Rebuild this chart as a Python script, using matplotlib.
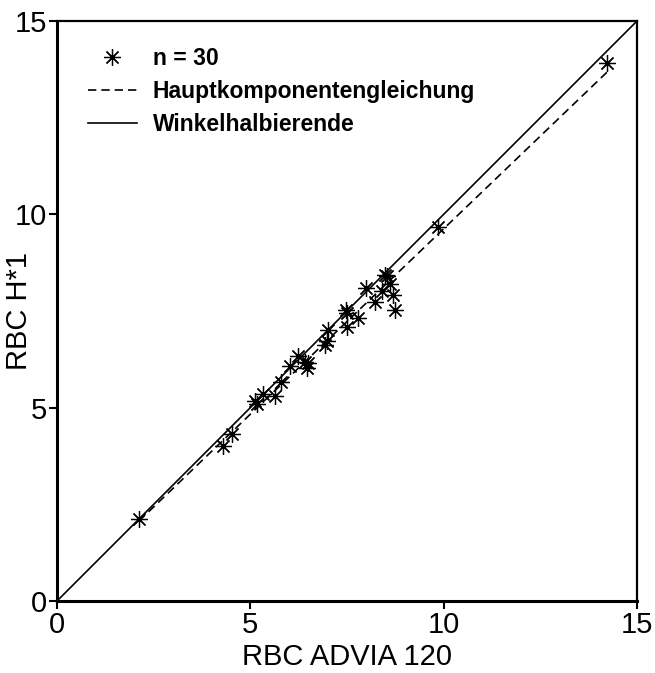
import numpy as np
import matplotlib.pyplot as plt

plt.rcParams['font.family'] = ['Liberation Sans', 'DejaVu Sans']

# RBC counts
advia = [2.12, 4.29, 4.53, 5.12, 5.18, 5.33, 5.63, 5.79, 6.03, 6.23,
         6.42, 6.50, 6.46, 6.93, 6.98, 7.00, 7.47, 7.50, 7.50, 7.78,
         7.99, 8.22, 8.40, 8.48, 8.53, 8.61, 8.69, 8.74, 9.85, 14.22]
h1 = [2.12, 4.01, 4.32, 5.17, 5.10, 5.36, 5.30, 5.66, 6.08, 6.34,
      6.18, 6.15, 6.03, 6.62, 6.72, 7.00, 7.53, 7.45, 7.09, 7.32,
      8.09, 7.73, 8.02, 8.43, 8.40, 8.20, 7.91, 7.53, 9.68, 13.92]

# Hauptkomponentengleichung y = a + b*x
pc_a = 0.036
pc_b = 0.959

ticks = [0, 5, 10, 15]

fig = plt.figure(figsize=(6.55, 6.73), dpi=100)
ax = fig.add_axes([57 / 655, 1 - 601 / 673, 580 / 655, 580 / 673])

x = np.array(advia)
xl = np.array([x.min(), x.max()])
pts, = ax.plot(advia, h1, linestyle='none', marker=(8, 2, 0), markersize=12,
               markeredgewidth=0.9, color='black', label='n = 30')
pc, = ax.plot(xl, pc_a + pc_b * xl, color='black', lw=1.2, dashes=(5, 3),
              label='Hauptkomponentengleichung')
diag, = ax.plot([0, 15], [0, 15], color='black', lw=1.2, label='Winkelhalbierende')

ax.set_xlim(0, 15)
ax.set_ylim(0, 15)
ax.set_xticks(ticks)
ax.set_yticks(ticks)
ax.tick_params(direction='out', length=6, width=1.5, labelsize=21, pad=1)
for s in ['left', 'bottom']:
    ax.spines[s].set_linewidth(2.2)
for s in ['top', 'right']:
    ax.spines[s].set_linewidth(1.6)
ax.set_xlabel('RBC ADVIA 120', fontsize=21, labelpad=3)
ax.set_ylabel('RBC H*1', fontsize=21)
ax.yaxis.set_label_coords(-0.041, 0.5)

ax.legend(handles=[pts, pc, diag], loc='upper left', bbox_to_anchor=(0.053, 0.955),
          frameon=False, borderpad=0, borderaxespad=0, handlelength=2.13,
          handletextpad=0.7, labelspacing=0.44,
          prop={'weight': 'bold', 'size': 16.5})

fig.savefig('out.png', dpi=100)
